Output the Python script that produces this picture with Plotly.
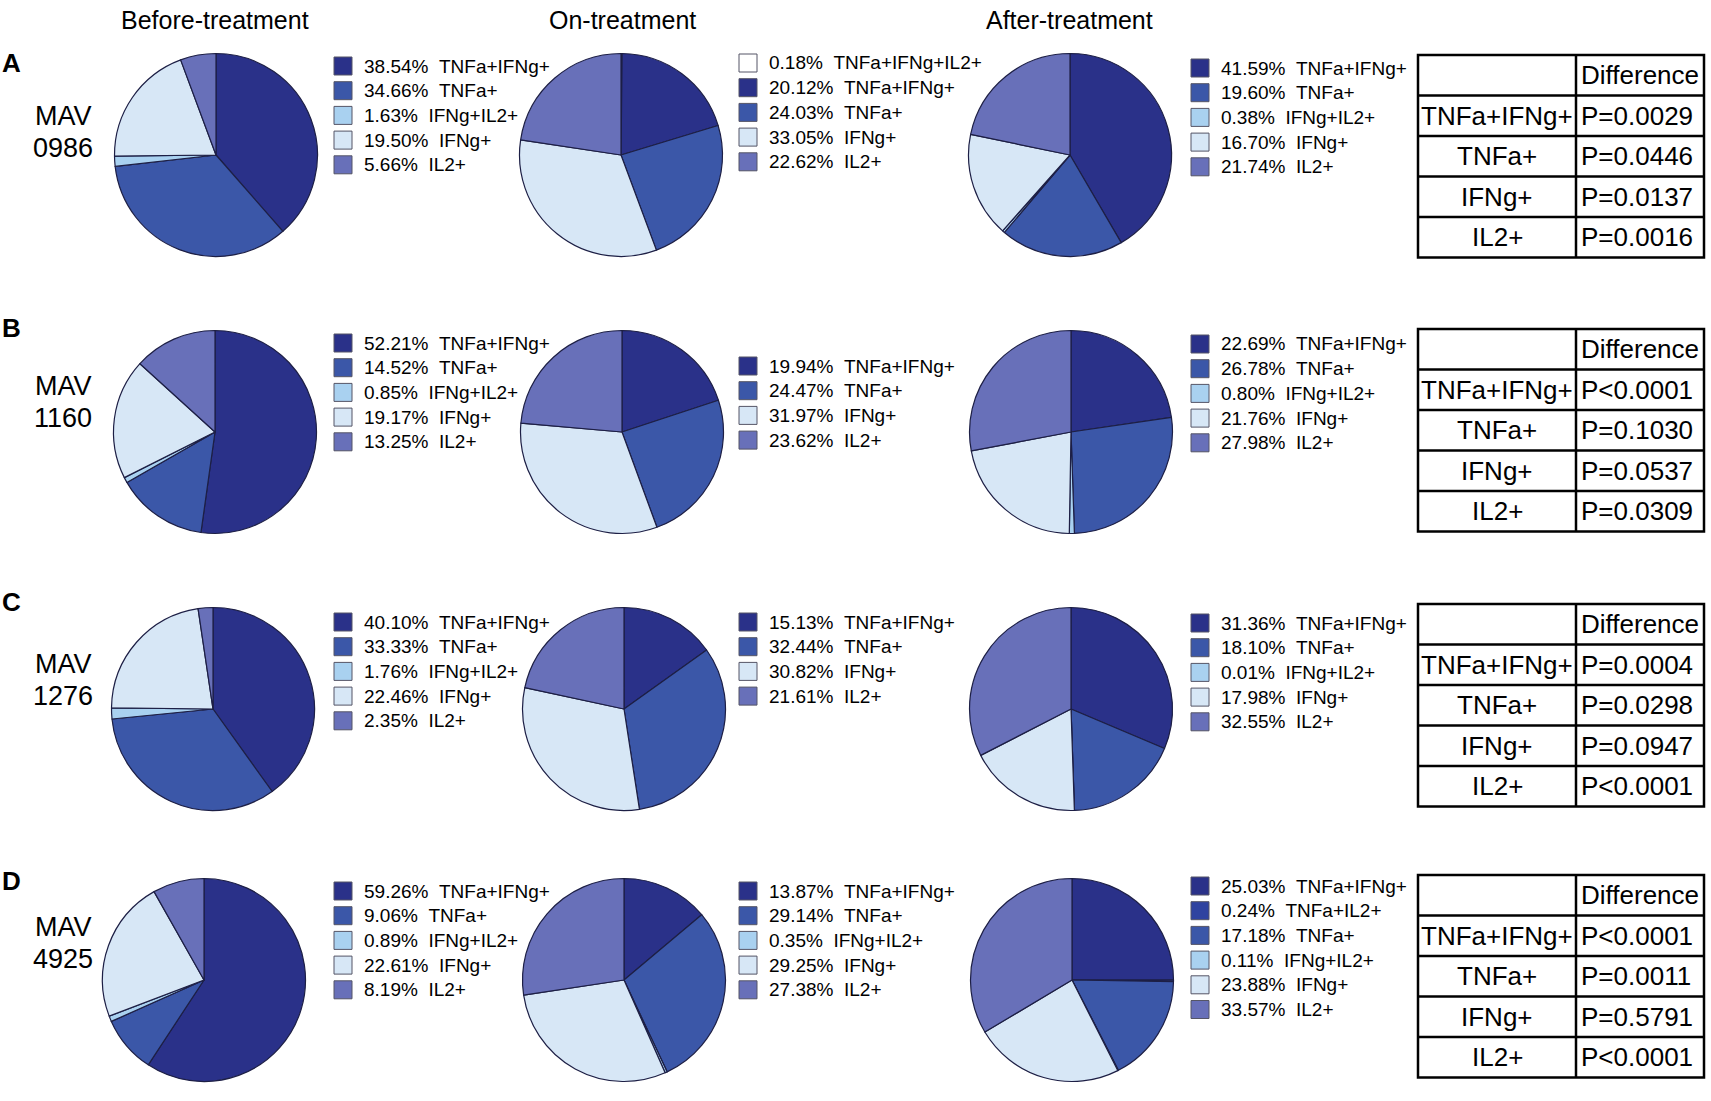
import plotly.graph_objects as go

W, H = 1711, 1101

# ---- data ----
timepoints = ["Before-treatment", "On-treatment", "After-treatment"]
panel_letters = ["A", "B", "C", "D"]
patients = ["0986", "1160", "1276", "4925"]

five = ["TNFa+IFNg+", "TNFa+", "IFNg+IL2+", "IFNg+", "IL2+"]
four = ["TNFa+IFNg+", "TNFa+", "IFNg+", "IL2+"]

# MAV 0986
a_before_cats = five
a_before = [38.54, 34.66, 1.63, 19.50, 5.66]
a_on_cats = ["TNFa+IFNg+IL2+"] + four
a_on = [0.18, 20.12, 24.03, 33.05, 22.62]
a_after_cats = five
a_after = [41.59, 19.60, 0.38, 16.70, 21.74]

# MAV 1160
b_before_cats = five
b_before = [52.21, 14.52, 0.85, 19.17, 13.25]
b_on_cats = four
b_on = [19.94, 24.47, 31.97, 23.62]
b_after_cats = five
b_after = [22.69, 26.78, 0.80, 21.76, 27.98]

# MAV 1276
c_before_cats = five
c_before = [40.10, 33.33, 1.76, 22.46, 2.35]
c_on_cats = four
c_on = [15.13, 32.44, 30.82, 21.61]
c_after_cats = five
c_after = [31.36, 18.10, 0.01, 17.98, 32.55]

# MAV 4925
d_before_cats = five
d_before = [59.26, 9.06, 0.89, 22.61, 8.19]
d_on_cats = five
d_on = [13.87, 29.14, 0.35, 29.25, 27.38]
d_after_cats = ["TNFa+IFNg+", "TNFa+IL2+", "TNFa+", "IFNg+IL2+", "IFNg+", "IL2+"]
d_after = [25.03, 0.24, 17.18, 0.11, 23.88, 33.57]

table_header = ["", "Difference"]
table_rows = ["TNFa+IFNg+", "TNFa+", "IFNg+", "IL2+"]
a_pvals = ["P=0.0029", "P=0.0446", "P=0.0137", "P=0.0016"]
b_pvals = ["P<0.0001", "P=0.1030", "P=0.0537", "P=0.0309"]
c_pvals = ["P=0.0004", "P=0.0298", "P=0.0947", "P<0.0001"]
d_pvals = ["P<0.0001", "P=0.0011", "P=0.5791", "P<0.0001"]

colors = {
    "TNFa+IFNg+IL2+": "#ffffff",
    "TNFa+IFNg+": "#2a3189",
    "TNFa+IL2+": "#2f43a0",
    "TNFa+": "#3b57a8",
    "IFNg+IL2+": "#a9d1f0",
    "IFNg+": "#d7e7f6",
    "IL2+": "#6870b9",
}

panels = [
    [(a_before_cats, a_before), (a_on_cats, a_on), (a_after_cats, a_after)],
    [(b_before_cats, b_before), (b_on_cats, b_on), (b_after_cats, b_after)],
    [(c_before_cats, c_before), (c_on_cats, c_on), (c_after_cats, c_after)],
    [(d_before_cats, d_before), (d_on_cats, d_on), (d_after_cats, d_after)],
]
pvals = [a_pvals, b_pvals, c_pvals, d_pvals]

# ---- layout (pixels) ----
FONT = "Liberation Sans, Arial, Helvetica, sans-serif"
pie_cx = [[216, 621, 1070], [215, 622, 1071], [213, 624, 1071], [204, 624, 1072]]
row_cy = [155, 432, 709, 980]
pie_d = 203
leg_x = [334, 739, 1191]
leg_top = [[66, 63, 68], [343, 366, 344], [622, 622, 623], [891, 891, 886]]
leg_step = 24.7
sq = 18
tab_x0, tab_xm, tab_x1 = 1418, 1576, 1704
tab_top = [55, 329, 604, 875]
tab_row = 40.5
mav_cy = [132, 402, 680, 943]


def px(x):
    return x / W


def py(y):
    return 1 - y / H


fig = go.Figure()
shapes = []
annotations = []

for j, t in enumerate(timepoints):
    annotations.append(dict(x=px([215, 622, 1069][j]), y=py(20), text=t, showarrow=False,
                            xanchor="center", yanchor="middle", font=dict(size=25)))

for i, row in enumerate(panels):
    annotations.append(dict(x=px(0), y=py([63, 328, 602, 881][i]), text="<b>%s</b>" % panel_letters[i],
                            showarrow=False, xanchor="left", yanchor="middle", font=dict(size=26)))
    annotations.append(dict(x=px(63), y=py(mav_cy[i] - 16), text="MAV",
                            showarrow=False, xanchor="center", yanchor="middle", font=dict(size=27)))
    annotations.append(dict(x=px(63), y=py(mav_cy[i] + 16), text=patients[i],
                            showarrow=False, xanchor="center", yanchor="middle", font=dict(size=27)))
    for j, (cats, vals) in enumerate(row):
        cx, cy = pie_cx[i][j], row_cy[i]
        fig.add_trace(go.Pie(
            labels=cats, values=vals, sort=False, direction="clockwise", rotation=0,
            marker=dict(colors=[colors[c] for c in cats], line=dict(color="#1d1f45", width=1.2)),
            textinfo="none", hoverinfo="label+percent", showlegend=False,
            domain=dict(x=[px(cx - pie_d / 2), px(cx + pie_d / 2)],
                        y=[py(cy + pie_d / 2), py(cy - pie_d / 2)]),
        ))
        for k, (c, v) in enumerate(zip(cats, vals)):
            yc = leg_top[i][j] + k * leg_step
            shapes.append(dict(type="rect", xref="paper", yref="paper",
                               x0=px(leg_x[j]), x1=px(leg_x[j] + sq),
                               y0=py(yc - sq / 2), y1=py(yc + sq / 2),
                               fillcolor=colors[c], line=dict(color="#555566", width=1)))
            annotations.append(dict(x=px(leg_x[j] + 28), y=py(yc), showarrow=False,
                                    text="%.2f%%\u00a0\u00a0%s" % (v, c),
                                    xanchor="left", yanchor="middle", font=dict(size=19)))

    # p-value table
    top = tab_top[i]
    bottom = top + 5 * tab_row
    shapes.append(dict(type="rect", xref="paper", yref="paper",
                       x0=px(tab_x0), x1=px(tab_x1), y0=py(bottom), y1=py(top),
                       line=dict(color="black", width=2.5)))
    shapes.append(dict(type="line", xref="paper", yref="paper",
                       x0=px(tab_xm), x1=px(tab_xm), y0=py(bottom), y1=py(top),
                       line=dict(color="black", width=2.5)))
    for r in range(1, 5):
        shapes.append(dict(type="line", xref="paper", yref="paper",
                           x0=px(tab_x0), x1=px(tab_x1),
                           y0=py(top + r * tab_row), y1=py(top + r * tab_row),
                           line=dict(color="black", width=2.5)))
    col1 = [table_header[0]] + table_rows
    col2 = [table_header[1]] + pvals[i]
    for r in range(5):
        yc = top + (r + 0.5) * tab_row
        annotations.append(dict(x=px((tab_x0 + tab_xm) / 2), y=py(yc), text=col1[r], showarrow=False,
                                xanchor="center", yanchor="middle", font=dict(size=26)))
        annotations.append(dict(x=px(tab_xm + 3), y=py(yc), text=col2[r], showarrow=False,
                                xanchor="left", yanchor="middle", font=dict(size=26)))

fig.update_layout(
    width=W, height=H,
    margin=dict(l=0, r=0, t=0, b=0),
    paper_bgcolor="white", plot_bgcolor="white",
    font=dict(family=FONT, color="black"),
    shapes=shapes, annotations=annotations,
)

fig.write_html("out.html", config={"displayModeBar": False},
               post_script="document.body.style.margin='0px';document.body.style.overflow='hidden';")
